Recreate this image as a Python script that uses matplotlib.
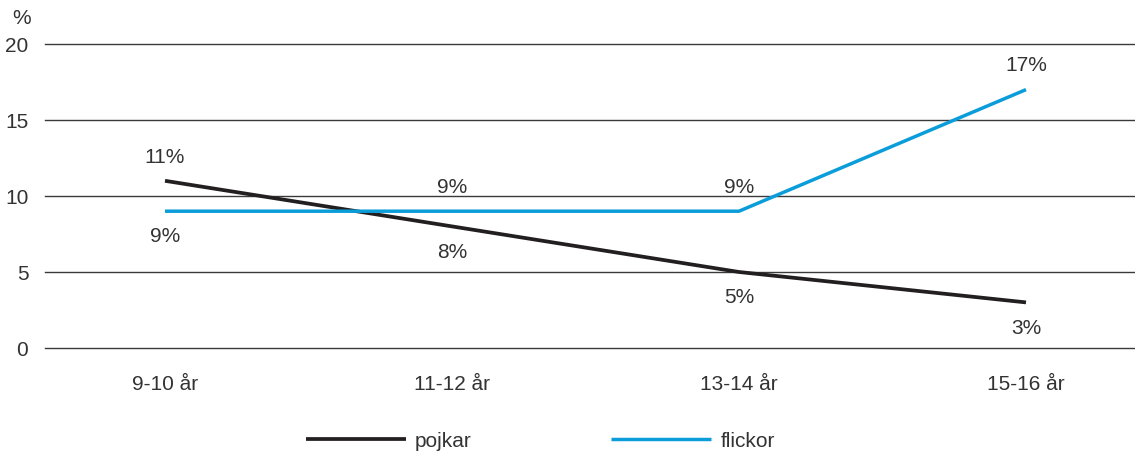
import numpy as np
import matplotlib.pyplot as plt

plt.rcParams['font.family'] = ['Liberation Sans', 'DejaVu Sans']

# Data
age_groups = ['9-10 år', '11-12 år', '13-14 år', '15-16 år']
boys = [11, 8, 5, 3]
girls = [9, 9, 9, 17]
y_ticks = [0, 5, 10, 15, 20]

BLACK = '#231f20'
BLUE = '#0a9dd9'
TEXT = '#333333'
FS = 15

fig = plt.figure(figsize=(11.35, 4.56), dpi=100)
ax = fig.add_axes([45 / 1135, 1 - 349 / 456, 1 - 45 / 1135, 304 / 456])

x = np.arange(len(age_groups))
line_b, = ax.plot(x, boys, color=BLACK, linewidth=2.7, label='pojkar',
                  solid_capstyle='butt', zorder=3)
line_g, = ax.plot(x, girls, color=BLUE, linewidth=2.5, label='flickor',
                  solid_capstyle='butt', zorder=3)

# value labels: higher series above, lower below
for i in range(len(x)):
    b, g = boys[i], girls[i]
    hi, lo = (b, g) if b > g else (g, b)
    ax.annotate(f'{hi}%', (x[i], hi), xytext=(0, 11), textcoords='offset points',
                ha='center', va='bottom', fontsize=FS, color=TEXT)
    ax.annotate(f'{lo}%', (x[i], lo), xytext=(0, -11), textcoords='offset points',
                ha='center', va='top', fontsize=FS, color=TEXT)

ax.set_ylim(0, 20)
ax.set_xlim((45 - 165) / 287, (1135 - 165) / 287)
ax.set_yticks(y_ticks)
ax.set_yticklabels([str(v) for v in y_ticks], fontsize=FS, color=TEXT)
ax.set_xticks(x)
ax.set_xticklabels(age_groups, fontsize=FS, color=TEXT)
ax.tick_params(axis='both', length=0)
ax.tick_params(axis='y', pad=12)
ax.tick_params(axis='x', pad=19)
for v in y_ticks:
    ax.axhline(v, color='#3a3a3a', linewidth=1.0, zorder=1, clip_on=False)
for s in ax.spines.values():
    s.set_visible(False)

fig.text(22 / 1135, 1 - 18 / 456, '%', fontsize=FS, color=TEXT, ha='center', va='center')

fig.legend(handles=[line_b, line_g], loc='center', bbox_to_anchor=(0.476, 1 - 442 / 456),
           ncol=2, frameon=False, fontsize=FS, handlelength=4.8, handletextpad=0.45,
           columnspacing=6.7, labelcolor=TEXT)

fig.savefig('out.png', dpi=100)
